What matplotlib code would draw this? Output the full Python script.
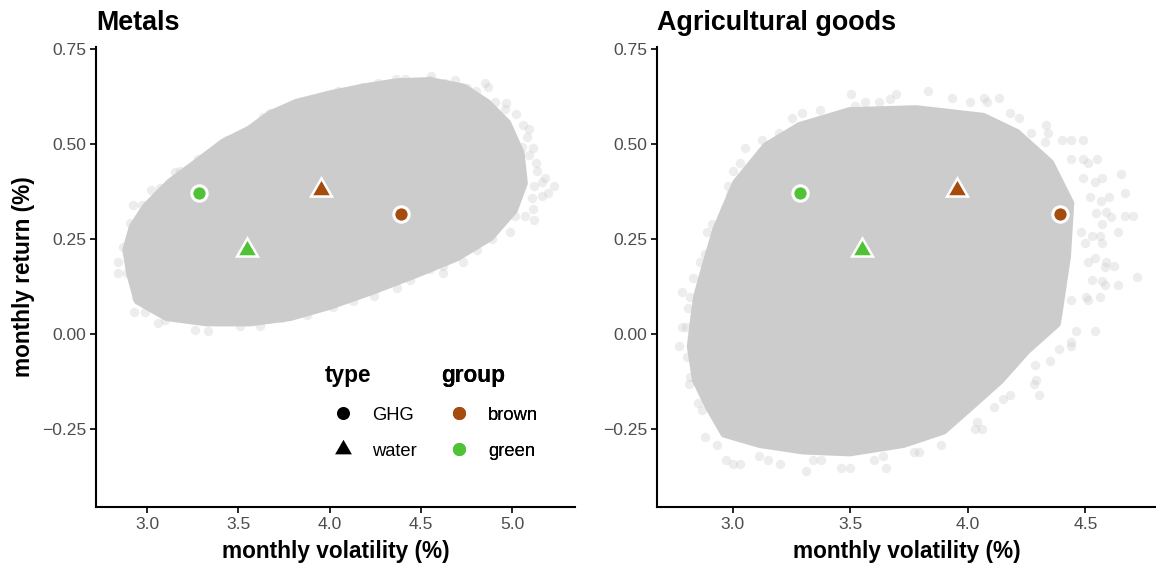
"""Two-panel volatility/return scatter: metals and agricultural goods."""

import matplotlib

matplotlib.use("Agg")
import matplotlib.pyplot as plt
from matplotlib.lines import Line2D

plt.rcParams["font.family"] = ["Liberation Sans", "DejaVu Sans"]

GREY = "#cccccc"
BROWN = "#a64b0e"
GREEN = "#4fc235"

# portfolio points, same in both panels
port_vol = [3.287, 3.548, 4.392, 3.953]
port_ret = [0.370, 0.222, 0.315, 0.378]
port_type = ["GHG", "water", "GHG", "water"]
port_group = ["green", "green", "brown", "brown"]

metals_body_x = [2.910, 2.889, 2.925, 2.998, 3.126, 3.272, 3.418, 3.564, 3.674, 3.820,
                 4.003, 4.185, 4.368, 4.551, 4.733, 4.861, 4.971, 5.044, 5.062, 5.007,
                 4.879, 4.697, 4.478, 4.240, 4.003, 3.784, 3.564, 3.327, 3.108, 2.950]
metals_body_y = [0.160, 0.221, 0.282, 0.335, 0.397, 0.449, 0.502, 0.537, 0.576, 0.607,
                 0.629, 0.647, 0.661, 0.664, 0.647, 0.607, 0.554, 0.476, 0.397, 0.326,
                 0.256, 0.203, 0.160, 0.116, 0.076, 0.046, 0.032, 0.032, 0.046, 0.089]

# single simulated portfolios visible at the edge of the metals cloud
metals_edge_x = [2.843, 2.838, 2.889, 2.870, 2.907, 2.925, 2.971, 3.020, 3.071, 3.153,
                 3.181, 3.281, 3.437, 3.491, 3.564, 3.637, 3.674, 3.732, 3.789, 3.838,
                 3.884, 4.048, 4.185, 4.268, 4.363, 4.414, 4.556, 4.551, 4.688, 4.633,
                 4.752, 4.852, 4.870, 4.803, 4.907, 4.967, 4.962, 5.022, 5.062, 5.093,
                 5.080, 5.053, 5.113, 5.095, 5.132, 5.135, 5.181, 5.163, 5.230, 5.199,
                 5.163, 5.121, 5.108, 5.113, 5.071, 5.121, 5.016, 4.989, 4.889, 4.806,
                 4.730, 4.620, 4.620, 4.551, 4.441, 4.368, 4.244, 4.131, 4.021, 3.875,
                 3.738, 3.619, 3.510, 3.336, 3.265, 3.099, 3.062, 2.989, 2.929, 2.940]
metals_edge_y = [0.160, 0.190, 0.160, 0.230, 0.291, 0.340, 0.340, 0.379, 0.383, 0.427,
                 0.429, 0.460, 0.511, 0.521, 0.539, 0.570, 0.581, 0.581, 0.600, 0.609,
                 0.611, 0.640, 0.649, 0.660, 0.670, 0.670, 0.679, 0.667, 0.668, 0.660,
                 0.647, 0.660, 0.649, 0.638, 0.610, 0.609, 0.591, 0.579, 0.550, 0.539,
                 0.519, 0.493, 0.489, 0.471, 0.449, 0.429, 0.410, 0.399, 0.390, 0.370,
                 0.362, 0.390, 0.357, 0.329, 0.311, 0.300, 0.311, 0.269, 0.249, 0.221,
                 0.190, 0.179, 0.160, 0.170, 0.141, 0.120, 0.100, 0.088, 0.072, 0.050,
                 0.041, 0.020, 0.020, 0.009, 0.011, 0.037, 0.030, 0.059, 0.059, 0.097]

# dense body of the agricultural cloud
agri_body_x = [2.850, 2.881, 2.931, 3.016, 3.143, 3.285, 3.497, 3.781, 4.064, 4.206,
               4.348, 4.433, 4.419, 4.383, 4.376, 4.249, 4.135, 4.008, 3.894, 3.724,
               3.497, 3.299, 3.115, 2.965, 2.900, 2.845, 2.823, 2.840]
agri_body_y = [0.098, 0.168, 0.274, 0.397, 0.493, 0.546, 0.585, 0.590, 0.570, 0.528,
               0.449, 0.344, 0.204, 0.054, 0.028, -0.042, -0.121, -0.191, -0.253, -0.288,
               -0.310, -0.305, -0.288, -0.261, -0.191, -0.121, -0.033, 0.054]

agri_edge_x = [3.502, 3.692, 3.670, 3.832, 3.561, 3.621, 3.521, 3.930, 4.131, 4.070,
               4.010, 4.081, 3.370, 3.292, 3.252, 4.217, 4.180, 4.331, 4.341, 4.270,
               4.440, 4.489, 4.400, 4.329, 3.122, 3.197, 3.051, 3.030, 3.001, 2.980,
               2.987, 2.966, 2.912, 2.891, 2.881, 2.860, 2.831, 2.782, 2.817, 4.550,
               4.440, 4.489, 4.511, 4.650, 4.570, 4.539, 4.489, 4.669, 4.600, 4.567,
               4.518, 4.588, 4.610, 4.669, 4.702, 4.546, 4.570, 4.638, 4.560, 4.529,
               4.570, 4.482, 4.496, 4.589, 4.621, 4.582, 4.539, 4.511, 4.720, 4.638,
               4.570, 4.582, 4.528, 4.560, 4.501, 4.511, 4.440, 4.542, 4.461, 4.440,
               4.440, 4.386, 4.351, 4.301, 4.291, 4.281, 4.284, 4.180, 4.111, 4.149,
               4.060, 4.032, 4.040, 3.887, 3.792, 3.771, 3.650, 3.500, 3.459, 3.310,
               3.200, 3.150, 3.030, 3.001, 2.970, 2.881, 2.931, 2.870, 2.850, 2.814,
               2.817, 2.803, 2.772, 2.800, 2.782, 2.810, 3.599, 3.339, 3.373, 3.639,
               3.111]
agri_edge_y = [0.631, 0.631, 0.618, 0.640, 0.610, 0.610, 0.600, 0.620, 0.620, 0.620,
               0.610, 0.610, 0.589, 0.581, 0.569, 0.569, 0.581, 0.550, 0.530, 0.530,
               0.510, 0.510, 0.510, 0.506, 0.511, 0.528, 0.489, 0.449, 0.430, 0.390,
               0.368, 0.331, 0.290, 0.269, 0.210, 0.190, 0.147, 0.110, 0.098, 0.460,
               0.460, 0.460, 0.449, 0.420, 0.410, 0.401, 0.410, 0.370, 0.360, 0.351,
               0.361, 0.322, 0.309, 0.311, 0.311, 0.318, 0.289, 0.269, 0.259, 0.259,
               0.239, 0.269, 0.239, 0.189, 0.179, 0.177, 0.199, 0.190, 0.149, 0.129,
               0.140, 0.129, 0.142, 0.098, 0.098, 0.090, 0.090, 0.009, 0.009, -0.020,
               -0.032, -0.040, -0.071, -0.161, -0.121, -0.131, -0.082, -0.161, -0.191, -0.172,
               -0.251, -0.251, -0.231, -0.291, -0.311, -0.310, -0.352, -0.352, -0.352, -0.361,
               -0.341, -0.332, -0.341, -0.341, -0.332, -0.272, -0.291, -0.200, -0.181, -0.132,
               -0.112, -0.061, -0.032, 0.019, 0.019, 0.068, -0.332, -0.332, -0.332, -0.321,
               -0.321]

y_ticks = [-0.25, 0.00, 0.25, 0.50, 0.75]
metals_xticks = [3.0, 3.5, 4.0, 4.5, 5.0]
agri_xticks = [3.0, 3.5, 4.0, 4.5]

W, H = 1156, 565
TRI = (3, 0, 0)  # equilateral triangle, closer to R's shape 17 than "^"
fig = plt.figure(figsize=(W / 100, H / 100), dpi=100)


def panel(x0, x1, xlim, xticks, title, body_x, body_y, edge_x, edge_y):
    ax = fig.add_axes([x0 / W, 1 - 507 / H, (x1 - x0) / W, 460 / H])
    # thick round edge stands in for the radius of the overplotted dots
    ax.fill(body_x, body_y, facecolor=GREY, edgecolor=GREY, lw=6.5,
            joinstyle="round", zorder=1)
    ax.scatter(edge_x, edge_y, s=46, color=GREY, alpha=0.35, linewidths=0, zorder=2)
    for vol, ret, kind, group in zip(port_vol, port_ret, port_type, port_group):
        ax.scatter(vol, ret, marker="o" if kind == "GHG" else TRI,
                   s=122 if kind == "GHG" else 300,
                   color=BROWN if group == "brown" else GREEN,
                   edgecolors="white", linewidths=2.2 if kind == "GHG" else 1.8,
                   joinstyle="miter", zorder=4)
    ax.set_xlim(*xlim)
    ax.set_ylim(-0.455, 0.755)
    ax.set_xticks(xticks, [f"{t:.1f}" for t in xticks])
    ax.set_yticks(y_ticks, [f"{t:.2f}".replace("-", "\u2212") for t in y_ticks])
    ax.tick_params(labelsize=12.6, labelcolor="#4d4d4d", length=4, width=1.2, pad=3)
    for side in ("top", "right"):
        ax.spines[side].set_visible(False)
    for side in ("left", "bottom"):
        ax.spines[side].set_linewidth(1.5)
    ax.set_xlabel("monthly volatility (%)", fontsize=16.3, fontweight="bold", labelpad=6)
    ax.set_title(title, loc="left", fontsize=19.4, fontweight="bold", pad=12)
    return ax


ax1 = panel(96, 575, (2.72, 5.345), metals_xticks, "Metals",
            metals_body_x, metals_body_y, metals_edge_x, metals_edge_y)
ax2 = panel(657, 1156, (2.677, 4.80), agri_xticks, "Agricultural goods",
            agri_body_x, agri_body_y, agri_edge_x, agri_edge_y)
ax1.set_ylabel("monthly return (%)", fontsize=16.3, fontweight="bold", labelpad=5)

type_handles = [
    Line2D([], [], ls="", marker="o", ms=9.4, mew=0, color="black", label="GHG"),
    Line2D([], [], ls="", marker=TRI, ms=14, mew=0, color="black", label="water"),
]
group_handles = [
    Line2D([], [], ls="", marker="o", ms=9.4, mew=0, color=BROWN, label="brown"),
    Line2D([], [], ls="", marker="o", ms=9.4, mew=0, color=GREEN, label="green"),
]
for handles, name, left in [(type_handles, "type", 325), (group_handles, "group", 441)]:
    leg = ax1.legend(handles=handles, title=name, frameon=False, fontsize=13.2,
                     title_fontproperties={"weight": "bold", "size": 16.3},
                     alignment="left", loc="upper left", borderaxespad=0, borderpad=0,
                     labelspacing=1.03, handleheight=0.85, handlelength=1.97,
                     handletextpad=0.6,
                     bbox_to_anchor=(left / W, 1 - 364 / H),
                     bbox_transform=fig.transFigure)
    ax1.add_artist(leg)

fig.savefig("out.png", dpi=100)
